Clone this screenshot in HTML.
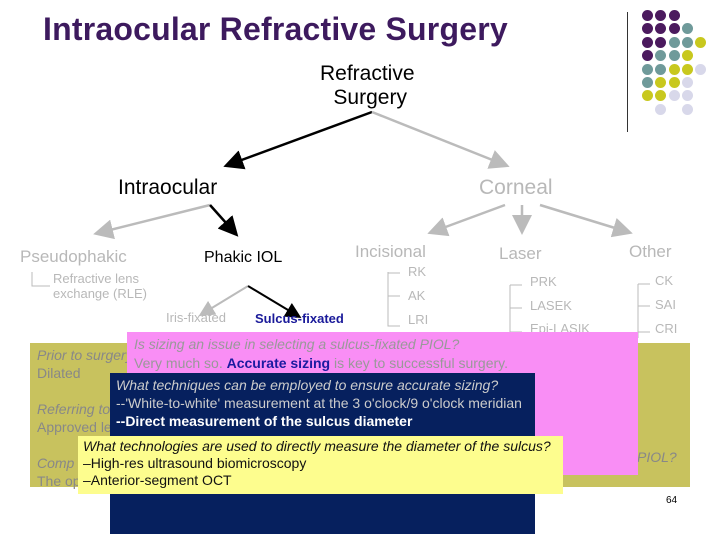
<!DOCTYPE html>
<html><head><style>
body{margin:0;width:720px;height:540px;background:#fff;position:relative;overflow:hidden;font-family:"Liberation Sans",sans-serif}
.a{position:absolute;white-space:nowrap}
.g{color:#b8b8b8}
.dot{position:absolute;width:11px;height:11px;border-radius:50%}
</style></head><body>
<div class="a" style="left:43px;top:11px;font-size:32px;font-weight:bold;color:#3d1a5e;letter-spacing:0.2px">Intraocular Refractive Surgery</div>
<div style="position:absolute;left:627px;top:12px;width:1px;height:120px;background:#333"></div>
<div id="dots"></div>
<svg style="position:absolute;left:0;top:0" width="720" height="540">
<defs><marker id="ab" markerWidth="8" markerHeight="8" refX="6" refY="4" orient="auto"><path d="M0,0L8,4L0,8z" fill="#000"/></marker>
<marker id="ag" markerWidth="8" markerHeight="8" refX="6" refY="4" orient="auto"><path d="M0,0L8,4L0,8z" fill="#bbb"/></marker></defs>
<line x1="372" y1="112" x2="228" y2="165" stroke="#000" stroke-width="2.5" marker-end="url(#ab)"/>
<line x1="372" y1="112" x2="505" y2="165" stroke="#bbb" stroke-width="2.5" marker-end="url(#ag)"/>
<line x1="210" y1="205" x2="98" y2="233" stroke="#bbb" stroke-width="2.5" marker-end="url(#ag)"/>
<line x1="210" y1="205" x2="235" y2="233" stroke="#000" stroke-width="2.5" marker-end="url(#ab)"/>
<line x1="505" y1="205" x2="432" y2="232" stroke="#bbb" stroke-width="2.5" marker-end="url(#ag)"/>
<line x1="522" y1="205" x2="522" y2="230" stroke="#bbb" stroke-width="2.5" marker-end="url(#ag)"/>
<line x1="540" y1="205" x2="628" y2="232" stroke="#bbb" stroke-width="2.5" marker-end="url(#ag)"/>
<line x1="248" y1="286" x2="202" y2="314" stroke="#bbb" stroke-width="2" marker-end="url(#ag)"/>
<line x1="248" y1="286" x2="298" y2="316" stroke="#000" stroke-width="2" marker-end="url(#ab)"/>
<path d="M32,272V286H50M388,272V326H400M388,273H400M388,296H400M510,285V338M510,285H522M510,308H522M510,332H522M638,284V338M638,284H650M638,306H650M638,332H650" stroke="#bbb" fill="none"/>
</svg>
<div class="a" style="left:320px;top:62px;font-size:21px;text-align:center;line-height:24px">Refractive<br>&nbsp;Surgery</div>
<div class="a" style="left:118px;top:176px;font-size:21px">Intraocular</div>
<div class="a g" style="left:479px;top:176px;font-size:21px">Corneal</div>
<div class="a g" style="left:20px;top:247px;font-size:17px">Pseudophakic</div>
<div class="a" style="left:204px;top:249px;font-size:16px">Phakic IOL</div>
<div class="a g" style="left:355px;top:242px;font-size:17px">Incisional</div>
<div class="a g" style="left:499px;top:244px;font-size:17px">Laser</div>
<div class="a g" style="left:629px;top:242px;font-size:17px">Other</div>
<div class="a g" style="left:53px;top:271px;font-size:13px;line-height:15px">Refractive lens<br>exchange (RLE)</div>
<div class="a g" style="left:408px;top:264px;font-size:13px">RK</div>
<div class="a g" style="left:408px;top:288px;font-size:13px">AK</div>
<div class="a g" style="left:408px;top:312px;font-size:13px">LRI</div>
<div class="a g" style="left:530px;top:274px;font-size:13px">PRK</div>
<div class="a g" style="left:530px;top:298px;font-size:13px">LASEK</div>
<div class="a g" style="left:655px;top:273px;font-size:13px">CK</div>
<div class="a g" style="left:655px;top:297px;font-size:13px">SAI</div>
<div class="a g" style="left:655px;top:321px;font-size:13px">CRI</div>
<div class="a g" style="left:166px;top:310px;font-size:13px">Iris-fixated</div>
<div class="a" style="left:255px;top:311px;font-size:13px;font-weight:bold;color:#1a1a9a">Sulcus-fixated</div>
<div class="a g" style="left:530px;top:321px;font-size:13px">Epi-LASIK</div>
<div style="position:absolute;left:30px;top:343px;width:660px;height:144px;background:#c8c25e"></div>
<div class="a" style="left:37px;top:346px;font-size:14px;color:#888;line-height:18px"><i>Prior to surgery</i><br>Dilated<br><br><i>Referring to</i><br>Approved le<br><br><i>Comp</i><br>The op</div>
<div class="a" style="left:637px;top:449px;font-size:14px;color:#888"><i>PIOL?</i></div>
<div style="position:absolute;left:127px;top:332px;width:511px;height:143px;background:#f98ef5"></div>
<div class="a" style="left:134px;top:335px;font-size:14px;color:#999;line-height:19px"><i>Is sizing an issue in selecting a sulcus-fixated PIOL?</i><br>Very much so. <b style="color:#1a1aa0">Accurate sizing</b> is key to successful surgery.</div>
<div style="position:absolute;left:110px;top:373px;width:425px;height:161px;background:#06205e"></div>
<div class="a" style="left:116px;top:376px;font-size:14px;color:#ccc;line-height:18px"><i>What techniques can be employed to ensure accurate sizing?</i><br>--'White-to-white' measurement at the 3 o'clock/9 o'clock meridian<br><b style="color:#fff">--Direct measurement of the sulcus diameter</b></div>
<div style="position:absolute;left:78px;top:436px;width:485px;height:58px;background:#fdfd8e"></div>
<div class="a" style="left:83px;top:438px;font-size:14px;color:#111;line-height:17px"><i>What technologies are used to directly measure the diameter of the sulcus?</i><br>–High-res ultrasound biomicroscopy<br>–Anterior-segment OCT</div>
<div class="a" style="left:666px;top:495px;font-size:10px">64</div>
<script>
var P="#4b1a5e",T="#6f9a9a",Y="#c8c81e",L="#d8d8ea";
var rows=[[P,P,P],[P,P,P,T],[P,P,T,T,Y],[P,T,T,Y],[T,T,Y,Y,L],[T,Y,Y,L],[Y,Y,L,L],[0,L,0,L]];
var h="";rows.forEach(function(r,i){r.forEach(function(c,j){if(c)h+='<div class="dot" style="left:'+(642+j*13.3)+'px;top:'+(10+i*13.4)+'px;background:'+c+'"></div>';});});
document.getElementById("dots").innerHTML=h;
</script>
</body></html>
